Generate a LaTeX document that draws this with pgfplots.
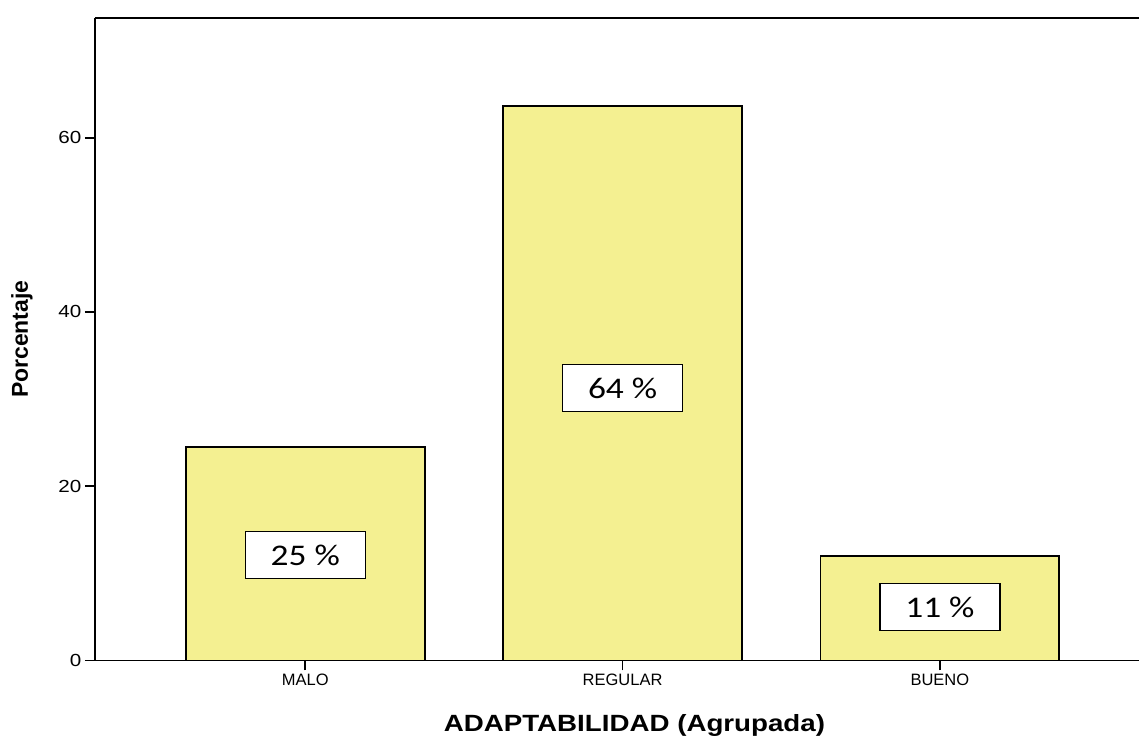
\documentclass[border=0pt]{standalone}
\usepackage{fontspec}
\setmainfont{Liberation Sans}
\newfontfamily\widefont{Liberation Sans}[FakeStretch=1.18]
\newfontfamily\labfont{Carlito}[FakeStretch=1.18]
\usepackage{pgfplots}
\pgfplotsset{compat=1.18}
\definecolor{barfill}{RGB}{244,240,145}

\begin{document}
\begin{tikzpicture}
\begin{axis}[
    scale only axis,
    width=1045pt, height=643pt,
    at={(0,0)}, anchor=south west,
    xmin=-0.663, xmax=2.628,
    ymin=0, ymax=73.74,
    axis x line*=bottom, axis y line*=left,
    axis line style={line width=1.7pt, -},
    xtick={0,1,2}, xticklabels={MALO,REGULAR,BUENO},
    ytick={0,20,40,60},
    tick align=outside, major tick length=10pt,
    tick style={line width=1.7pt, black},
    xticklabel style={font=\fontsize{16.5}{19}\selectfont},
    yticklabel style={font=\widefont\fontsize{17.5}{20}\selectfont},
    /pgf/number format/assume math mode=true,
    xlabel={ADAPTABILIDAD (Agrupada)},
    ylabel={Porcentaje},
    every axis x label/.style={at={(axis description cs:0.5167,-0.1104)}, anchor=base,
        font=\widefont\bfseries\fontsize{23.5}{28}\selectfont},
    every axis y label/.style={at={(axis description cs:-0.0699,0.5)}, rotate=90, anchor=center,
        font=\bfseries\fontsize{23}{28}\selectfont},
    clip=false,
]

\addplot[ybar, fill=barfill, draw=black, line width=1.7pt, bar width=0.7528]
    coordinates {(0,24.5) (1,63.6) (2,12.0)};

\draw[line width=1.7pt] (rel axis cs:0,1) -- (rel axis cs:1,1);

\tikzset{lbl/.style={draw=black, line width=1.5pt, fill=white, minimum width=120pt,
    minimum height=47pt, inner sep=0pt, font=\labfont\fontsize{30}{35}\selectfont}}
\node[lbl] at (axis cs:0,12.1) {25 \%};
\node[lbl] at (axis cs:1,31.25) {64 \%};
\node[lbl] at (axis cs:2,6.14) {11 \%};

\end{axis}
\path[use as bounding box] (-95pt,-74pt) rectangle (1045pt,661pt);
\end{tikzpicture}
\end{document}
